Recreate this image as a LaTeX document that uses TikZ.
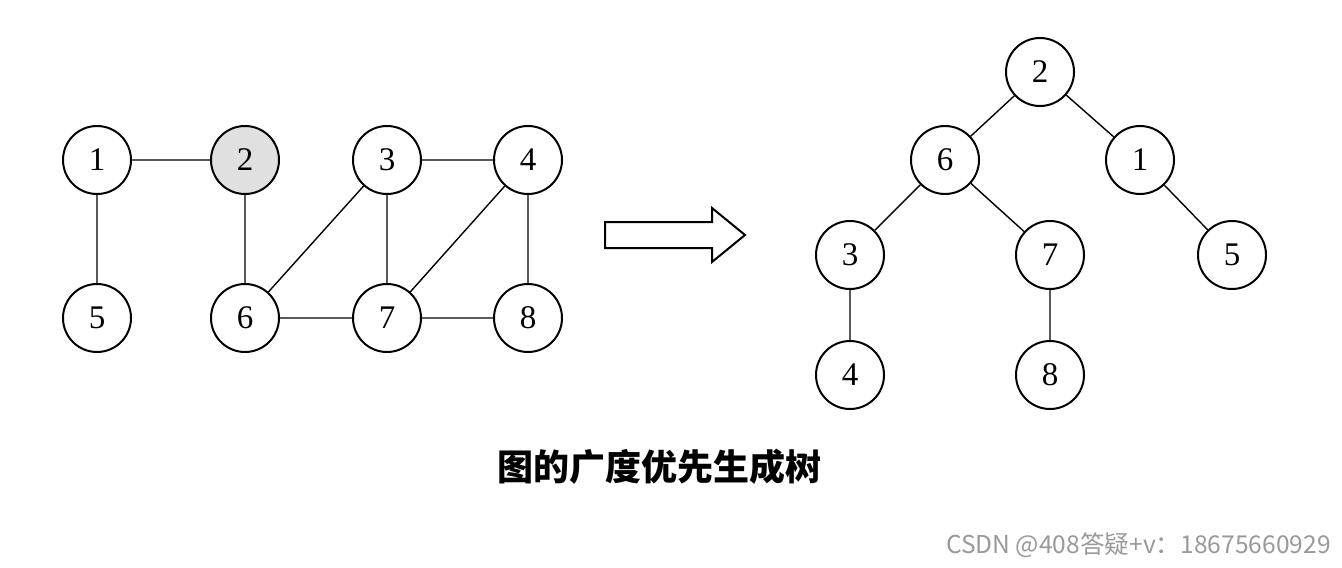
\documentclass[tikz,border=0pt]{standalone}
\usepackage{fontspec}
\setmainfont{Liberation Serif}
\newfontfamily\cjk{Noto Sans CJK SC}
\begin{document}
\begin{tikzpicture}[x=0.5pt,y=-0.5pt,
  vtx/.style={circle,draw,line width=1pt,minimum size=34pt,inner sep=0pt,font=\fontsize{16.5}{16.5}\selectfont},
  every path/.style={line width=0.7pt}]
\useasboundingbox (0,0) rectangle (1342,567);
% graph
\node[vtx] (g1) at (97,160) {1};
\node[vtx,fill=black!12] (g2) at (245,160) {2};
\node[vtx] (g3) at (387,160) {3};
\node[vtx] (g4) at (528,160) {4};
\node[vtx] (g5) at (97,318) {5};
\node[vtx] (g6) at (245,318) {6};
\node[vtx] (g7) at (387,318) {7};
\node[vtx] (g8) at (528,318) {8};
\draw (g1) -- (g2) (g1) -- (g5) (g2) -- (g6) (g3) -- (g4)
      (g3) -- (g6) (g3) -- (g7) (g4) -- (g7) (g4) -- (g8)
      (g6) -- (g7) (g7) -- (g8);
% arrow
\draw[line width=1pt] (605,222) -- (712,222) -- (712,208) -- (745,235)
  -- (712,262) -- (712,248) -- (605,248) -- cycle;
% tree
\node[vtx] (t2) at (1040,72) {2};
\node[vtx] (t6) at (945,160) {6};
\node[vtx] (t1) at (1140,160) {1};
\node[vtx] (t3) at (850,255) {3};
\node[vtx] (t7) at (1050,255) {7};
\node[vtx] (t5) at (1232,255) {5};
\node[vtx] (t4) at (850,375) {4};
\node[vtx] (t8) at (1050,375) {8};
\draw (t2) -- (t6) (t2) -- (t1) (t6) -- (t3) (t6) -- (t7)
      (t1) -- (t5) (t3) -- (t4) (t7) -- (t8);
\node[font=\cjk\bfseries\fontsize{18}{18}\selectfont] (title) at (659,467) {图的广度优先生成树};
\node[font=\cjk\fontsize{12.3}{12.3}\selectfont,text=black!40,anchor=east] (mark) at (1338,545) {CSDN @408答疑+v：18675660929};
\end{tikzpicture}
\end{document}
